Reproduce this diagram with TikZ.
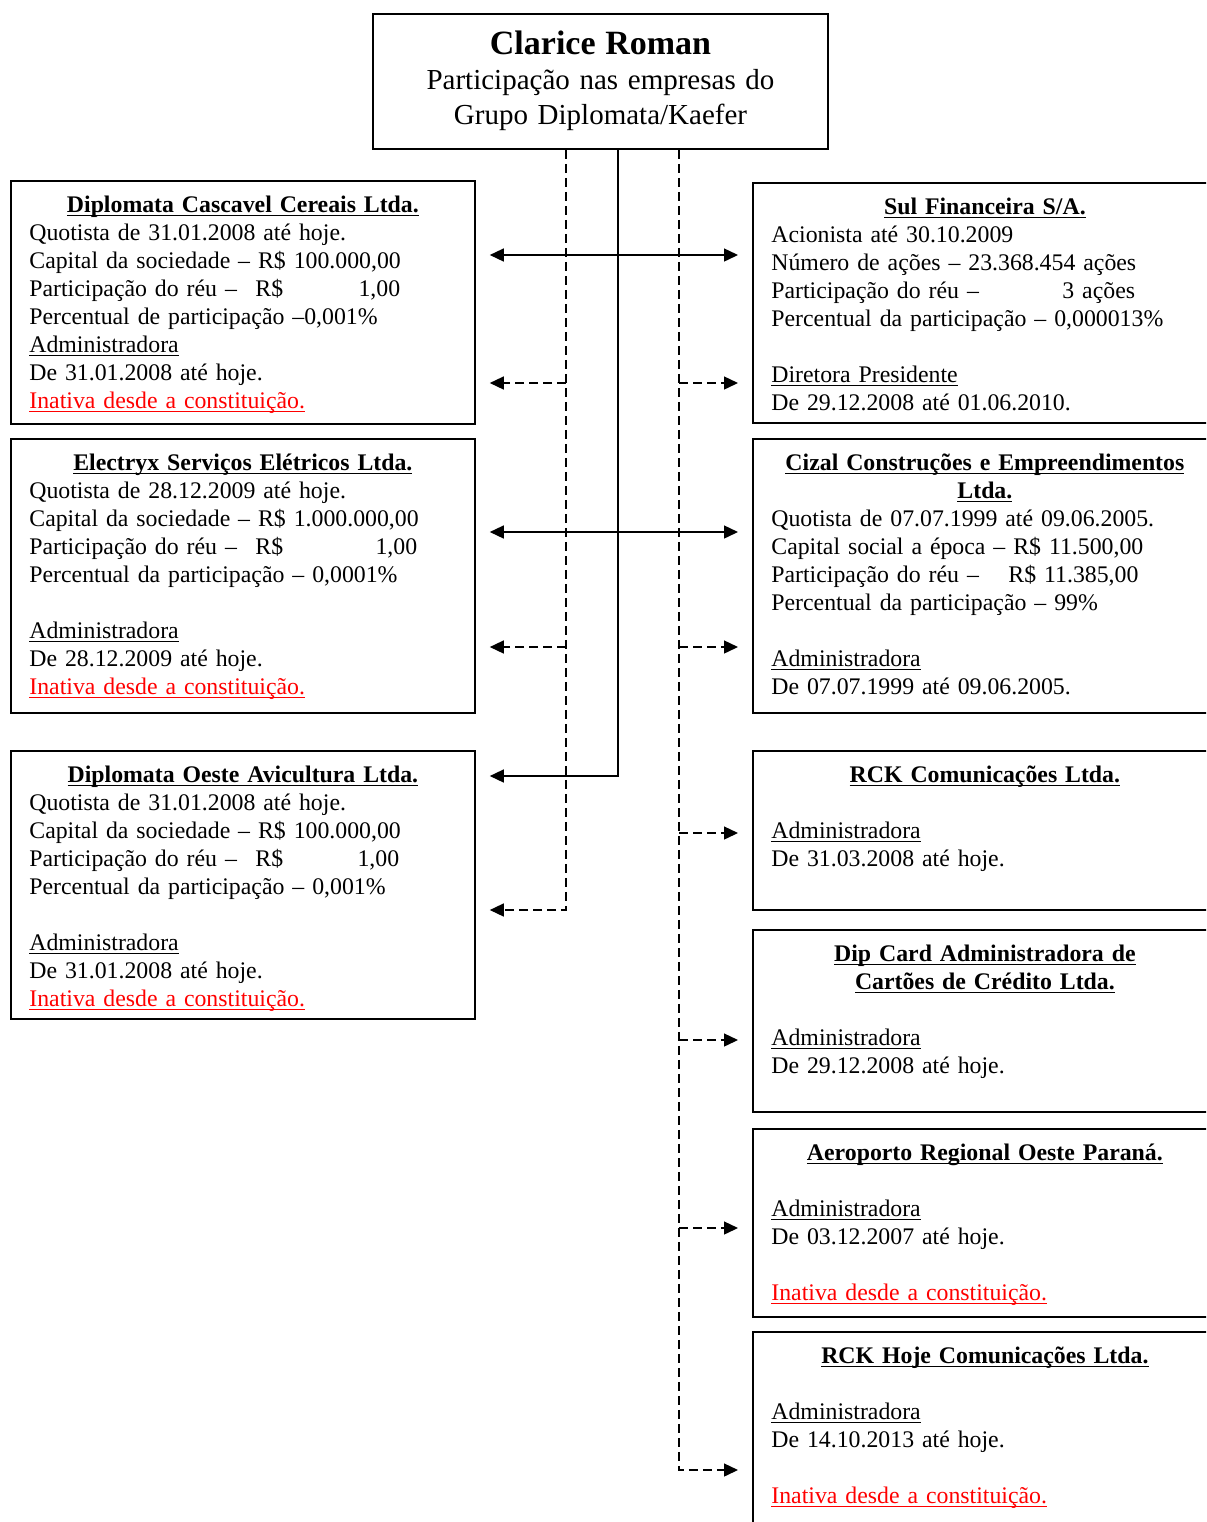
\documentclass[tikz,border=0pt]{standalone}
\usepackage{fontspec}
\setmainfont{Liberation Serif}
\usetikzlibrary{arrows.meta}

\newcommand{\sublinha}[1]{\leavevmode\setbox0\hbox{#1}\rlap{\rule[-1.7pt]{\wd0}{0.8pt}}\box0}
\newcommand{\firma}[1]{\makebox[\linewidth]{\bfseries\sublinha{#1}}}
\newcommand{\inativa}{\textcolor{red}{\sublinha{Inativa desde a constituição.}}}

\begin{document}
\begin{tikzpicture}
  [x=0.5pt,y=-0.5pt,>={Triangle[length=7pt,width=6.5pt]},
  owner/.style={draw,line width=0.9pt,anchor=north,text width=219.5pt,align=center,
    inner xsep=4pt,inner ysep=0pt,text height=20.5pt,text depth=47pt,
    font=\fontsize{14.5}{17.5}\selectfont},
  company/.style={draw,line width=0.9pt,anchor=north west,text width=213.5pt,align=left,
    inner xsep=9.25pt,inner ysep=4pt,text height=12pt,font=\fontsize{11.9}{14}\selectfont},
  link/.style={line width=0.7pt,->,shorten >=7pt},
  dashed link/.style={link,dash pattern=on 4.5pt off 2.5pt}]
  \clip (0,0) rectangle (1206,1522);

  \node [owner] (owner) at (600.5,13)
  {{\fontsize{17}{18}\selectfont\bfseries Clarice Roman}\\
    Participação nas empresas do\\ Grupo Diplomata/Kaefer};

  % left column
  \node [company,text depth=101.5pt] (cascavel) at (10,180)
  {\firma{Diplomata Cascavel Cereais Ltda.}\\
    Quotista de 31.01.2008 até hoje.\\
    Capital da sociedade -- R\$ 100.000,00\\
    \makebox[113pt][l]{Participação do réu --}R\$\makebox[58.5pt][r]{1,00}\\
    Percentual de participação --0,001\%\\
    \sublinha{Administradora}\\
    De 31.01.2008 até hoje.\\
    \inativa};
  \node [company,text depth=117pt] (electryx) at (10,438)
  {\firma{Electryx Serviços Elétricos Ltda.}\\
    Quotista de 28.12.2009 até hoje.\\
    Capital da sociedade -- R\$ 1.000.000,00\\
    \makebox[113pt][l]{Participação do réu --}R\$\makebox[67pt][r]{1,00}\\
    Percentual da participação -- 0,0001\%\\[14pt]
    \sublinha{Administradora}\\
    De 28.12.2009 até hoje.\\
    \inativa};
  \node [company,text depth=114pt] (oeste) at (10,750)
  {\firma{Diplomata Oeste Avicultura Ltda.}\\
    Quotista de 31.01.2008 até hoje.\\
    Capital da sociedade -- R\$ 100.000,00\\
    \makebox[113pt][l]{Participação do réu --}R\$\makebox[58pt][r]{1,00}\\
    Percentual da participação -- 0,001\%\\[14pt]
    \sublinha{Administradora}\\
    De 31.01.2008 até hoje.\\
    \inativa};

  % right column
  \node [company,text depth=100pt] (sul) at (752,182)
  {\firma{Sul Financeira S/A.}\\
    Acionista até 30.10.2009\\
    Número de ações -- 23.368.454 ações\\
    \makebox[145.5pt][l]{Participação do réu --}3 ações\\
    Percentual da participação -- 0,000013\%\\[14pt]
    \sublinha{Diretora Presidente}\\
    De 29.12.2008 até 01.06.2010.};
  \node [company,text depth=117pt] (cizal) at (752,438)
  {\firma{Cizal Construções e Empreendimentos}\\
    \firma{Ltda.}\\
    Quotista de 07.07.1999 até 09.06.2005.\\
    Capital social a época -- R\$ 11.500,00\\
    \makebox[118.5pt][l]{Participação do réu --}R\$ 11.385,00\\
    Percentual da participação -- 99\%\\[14pt]
    \sublinha{Administradora}\\
    De 07.07.1999 até 09.06.2005.};
  \node [company,text depth=59.5pt] (rck) at (752,750)
  {\firma{RCK Comunicações Ltda.}\\[14pt]
    \sublinha{Administradora}\\
    De 31.03.2008 até hoje.};
  \node [company,text depth=71pt] (dipcard) at (752,929)
  {\firma{Dip Card Administradora de}\\
    \firma{Cartões de Crédito Ltda.}\\[14pt]
    \sublinha{Administradora}\\
    De 29.12.2008 até hoje.};
  \node [company,text depth=74pt] (aeroporto) at (752,1128)
  {\firma{Aeroporto Regional Oeste Paraná.}\\[14pt]
    \sublinha{Administradora}\\
    De 03.12.2007 até hoje.\\[14pt]
    \inativa};
  \node [company,text depth=94pt] (hoje) at (752,1331)
  {\firma{RCK Hoje Comunicações Ltda.}\\[14pt]
    \sublinha{Administradora}\\
    De 14.10.2013 até hoje.\\[14pt]
    \inativa};

  % quotista links
  \coordinate (s1) at (618,255);
  \coordinate (s2) at (618,532);
  \coordinate (s3) at (618,776);
  \draw [link] (owner.south -| s3) -- (s3) -- (oeste.east |- s3);
  \draw [link] (s1) -- (cascavel.east |- s1);
  \draw [link] (s1) -- (sul.west |- s1);
  \draw [link] (s2) -- (electryx.east |- s2);
  \draw [link] (s2) -- (cizal.west |- s2);

  % administradora links
  \coordinate (l1) at (566,383);
  \coordinate (l2) at (566,647);
  \coordinate (l3) at (566,910);
  \draw [dashed link] (owner.south -| l3) -- (l3) -- (oeste.east |- l3);
  \draw [dashed link] (l1) -- (cascavel.east |- l1);
  \draw [dashed link] (l2) -- (electryx.east |- l2);

  \coordinate (r1) at (679,383);
  \coordinate (r2) at (679,647);
  \coordinate (r3) at (679,833);
  \coordinate (r4) at (679,1040);
  \coordinate (r5) at (679,1228);
  \coordinate (r6) at (679,1470);
  \draw [dashed link] (owner.south -| r6) -- (r6) -- (hoje.west |- r6);
  \draw [dashed link] (r1) -- (sul.west |- r1);
  \draw [dashed link] (r2) -- (cizal.west |- r2);
  \draw [dashed link] (r3) -- (rck.west |- r3);
  \draw [dashed link] (r4) -- (dipcard.west |- r4);
  \draw [dashed link] (r5) -- (aeroporto.west |- r5);
\end{tikzpicture}
\end{document}
